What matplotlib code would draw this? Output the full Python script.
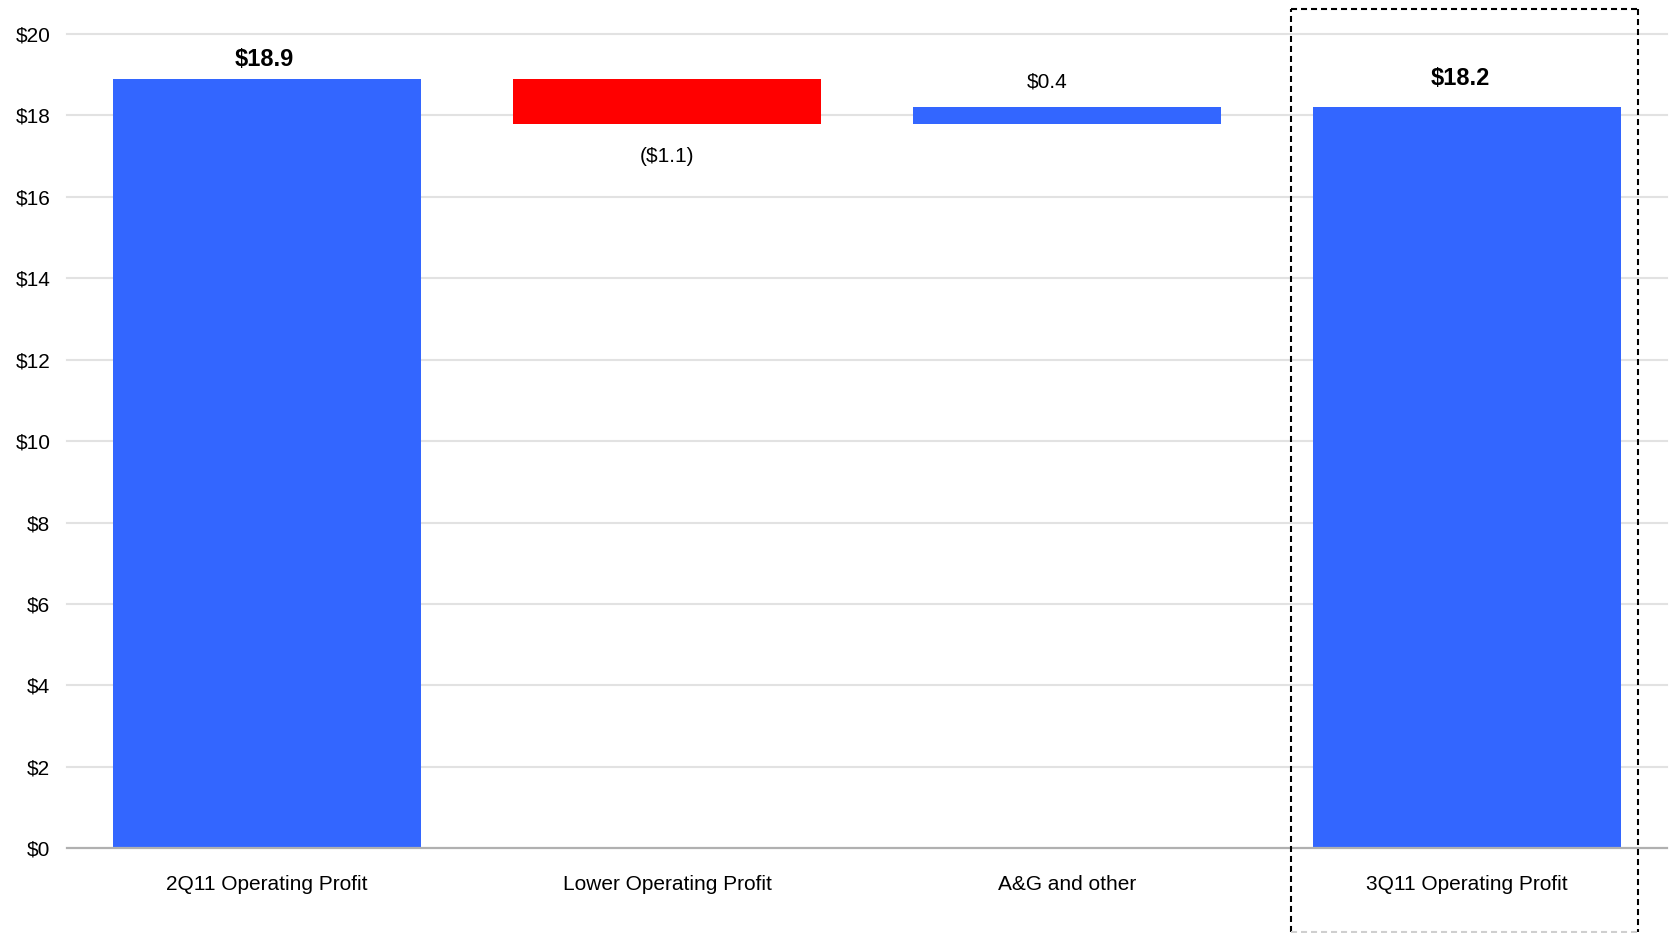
import matplotlib
matplotlib.use("Agg")
import matplotlib.pyplot as plt
from matplotlib.lines import Line2D

# Operating profit bridge, 2Q11 -> 3Q11 ($ millions)
categories = ["2Q11 Operating Profit", "Lower Operating Profit", "A&G and other", "3Q11 Operating Profit"]
changes = [18.9, -1.1, 0.4, 18.2]
kinds = ["total", "delta", "delta", "total"]
value_labels = ["$18.9", "($1.1)", "$0.4", "$18.2"]
y_ticks = [0, 2, 4, 6, 8, 10, 12, 14, 16, 18, 20]
y_tick_labels = ["$" + str(v) for v in y_ticks]

BLUE = "#3366FF"
RED = "#FF0000"
FONT = ["Liberation Sans Narrow", "Liberation Sans", "DejaVu Sans"]
plt.rcParams["font.family"] = FONT

W, H = 1669, 933
fig = plt.figure(figsize=(W / 100, H / 100), dpi=100)
ax = fig.add_axes([67 / W, (H - 848.3) / H, 1600 / W, (848.3 - 34) / H])

# waterfall geometry
running = 0.0
bottoms, heights, colors = [], [], []
for val, kind in zip(changes, kinds):
    if kind == "total":
        bottoms.append(0.0)
        heights.append(val)
        running = val
        colors.append(BLUE)
    else:
        new = running + val
        bottoms.append(min(running, new))
        heights.append(abs(val))
        colors.append(RED if val < 0 else BLUE)
        running = new

x = list(range(len(categories)))
ax.bar(x, heights, bottom=bottoms, width=0.772, color=colors, zorder=3)

ax.set_xlim(-0.5, len(categories) - 0.5)
ax.set_ylim(0, 20)
ax.set_yticks(y_ticks)
ax.set_yticklabels(y_tick_labels, fontsize=15)
ax.set_xticks(x)
ax.set_xticklabels(categories, fontsize=15)
ax.tick_params(axis="y", length=0, pad=12)
ax.tick_params(axis="x", length=0, pad=19.5)

for v in y_ticks[1:]:
    ax.axhline(v, color="#e2e2e2", lw=1.5, zorder=1, clip_on=False)
ax.axhline(0, color="#b0b0b0", lw=1.6, zorder=4, clip_on=False)
for s in ax.spines.values():
    s.set_visible(False)

# value labels (offsets in points)
label_offsets = [(-2, 14), (0, -24), (-14, 18), (-5, 21)]
for i, (val, kind, lab) in enumerate(zip(changes, kinds, value_labels)):
    top = bottoms[i] + heights[i]
    dx, dy = label_offsets[i]
    anchor = bottoms[i] if (kind == "delta" and val < 0) else top
    weight = "bold" if kind == "total" else "normal"
    size = 17 if kind == "total" else 15
    ax.annotate(lab, (i, anchor), xytext=(dx, dy), textcoords="offset points",
                ha="center", va="center", fontsize=size, fontweight=weight)

# dashed highlight box around the closing bar
x0, x1 = 1291 / W, 1638 / W
yt, yb = 1 - 8.5 / H, 1 - 931.5 / H
dash = (0, (2.9, 1.9))
for xs, ys, c in [([x0, x0], [yb, yt], "black"),
                  ([x0, x1], [yt, yt], "black"),
                  ([x1, x1], [yt, yb], "black"),
                  ([x0, x1], [yb, yb], "#cfcfcf")]:
    fig.add_artist(Line2D(xs, ys, transform=fig.transFigure, color=c,
                          lw=1.5, linestyle=dash))

fig.savefig("out.png", dpi=100)
